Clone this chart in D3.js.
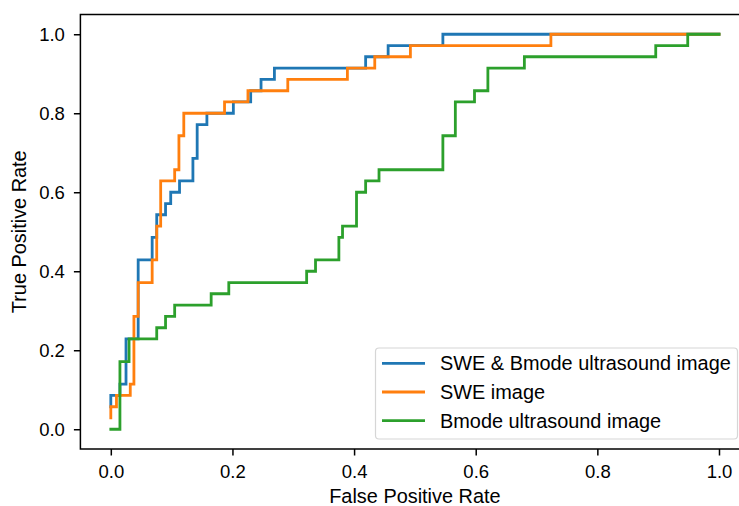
<!DOCTYPE html>
<html>
<head>
<meta charset="utf-8">
<script src="https://d3js.org/d3.v7.min.js"></script>
<style>
  body { margin: 0; background: #fff; }
  svg { display: block; font-family: "Liberation Sans", Arial, sans-serif; }
</style>
</head>
<body>
<svg width="739" height="506" class="roc-chart"></svg>
<script>
  // ROC corner points (fpr / tpr)
  const seriesNames = ["SWE & Bmode ultrasound image", "SWE image", "Bmode ultrasound image"];
  const seriesColors = ["#1f77b4", "#ff7f0e", "#2ca02c"];

  const combinedFpr = [0, 0, 0.015, 0.015, 0.025, 0.025, 0.045, 0.045, 0.068, 0.068, 0.0755, 0.0755,
    0.09, 0.09, 0.0985, 0.0985, 0.113, 0.113, 0.135, 0.135, 0.142, 0.142, 0.158, 0.158,
    0.2015, 0.2015, 0.23, 0.23, 0.247, 0.247, 0.269, 0.269, 0.419, 0.419, 0.456, 0.456,
    0.546, 0.546, 1.0];
  const combinedTpr = [0.057, 0.086, 0.086, 0.114, 0.114, 0.229, 0.229, 0.429, 0.429, 0.486, 0.486, 0.543,
    0.543, 0.571, 0.571, 0.6, 0.6, 0.629, 0.629, 0.686, 0.686, 0.771, 0.771, 0.8,
    0.8, 0.829, 0.829, 0.857, 0.857, 0.886, 0.886, 0.914, 0.914, 0.943, 0.943, 0.971,
    0.971, 1.0, 1.0];

  const sweFpr = [0, 0, 0.0093, 0.0093, 0.032, 0.032, 0.038, 0.038, 0.045, 0.045, 0.068, 0.068,
    0.0755, 0.0755, 0.082, 0.082, 0.105, 0.105, 0.112, 0.112, 0.12, 0.12, 0.187, 0.187,
    0.2255, 0.2255, 0.291, 0.291, 0.389, 0.389, 0.434, 0.434, 0.4926, 0.4926, 0.7236, 0.7236, 1.0];
  const sweTpr = [0.029, 0.057, 0.057, 0.086, 0.086, 0.114, 0.114, 0.286, 0.286, 0.371, 0.371, 0.429,
    0.429, 0.514, 0.514, 0.629, 0.629, 0.657, 0.657, 0.743, 0.743, 0.8, 0.8, 0.829,
    0.829, 0.857, 0.857, 0.886, 0.886, 0.914, 0.914, 0.943, 0.943, 0.971, 0.971, 1.0, 1.0];

  const bmodeFpr = [0, 0.015, 0.015, 0.030, 0.030, 0.0755, 0.0755, 0.09, 0.09, 0.105, 0.105, 0.165,
    0.165, 0.194, 0.194, 0.322, 0.322, 0.3366, 0.3366, 0.375, 0.375, 0.381, 0.381, 0.404,
    0.404, 0.419, 0.419, 0.441, 0.441, 0.546, 0.546, 0.5665, 0.5665, 0.598, 0.598, 0.62,
    0.62, 0.68, 0.68, 0.896, 0.896, 0.9486, 0.9486, 1.0];
  const bmodeTpr = [0, 0, 0.171, 0.171, 0.229, 0.229, 0.257, 0.257, 0.286, 0.286, 0.314, 0.314,
    0.343, 0.343, 0.371, 0.371, 0.4, 0.4, 0.429, 0.429, 0.486, 0.486, 0.514, 0.514,
    0.6, 0.6, 0.629, 0.629, 0.657, 0.657, 0.743, 0.743, 0.829, 0.829, 0.857, 0.857,
    0.914, 0.914, 0.943, 0.943, 0.971, 0.971, 1.0, 1.0];

  const tickValues = [0, 0.2, 0.4, 0.6, 0.8, 1.0];

  const fprs = [combinedFpr, sweFpr, bmodeFpr];
  const tprs = [combinedTpr, sweTpr, bmodeTpr];

  const svg = d3.select(".roc-chart");
  const tickSize = 18.5;   // tick label font
  const labelSize = 19.9;  // axis titles + legend

  // axes box (right edge runs past the picture, like the reference)
  const plotLeft = 80.4, plotRight = 749.4, plotTop = 14.5, plotBottom = 449;

  const x = d3.scaleLinear().domain([-0.05, 1.05]).range([plotLeft, plotRight]);
  const y = d3.scaleLinear().domain([-0.05, 1.05]).range([plotBottom, plotTop]);

  const line = d3.line()
    .x(d => x(d[0]))
    .y(d => y(d[1]));

  // curves
  fprs.forEach((f, i) => {
    const pts = f.map((v, j) => [v, tprs[i][j]]);
    svg.append("path")
      .datum(pts)
      .attr("d", line)
      .attr("fill", "none")
      .attr("stroke", seriesColors[i])
      .attr("stroke-width", 2.8)
      .attr("stroke-linejoin", "miter")
      .attr("stroke-linecap", "square");
  });

  // x axis
  const xAxis = svg.append("g")
    .attr("transform", "translate(0," + plotBottom + ")")
    .call(d3.axisBottom(x).tickValues(tickValues).tickFormat(d3.format(".1f"))
      .tickSize(6.5).tickPadding(9));

  // y axis
  const yAxis = svg.append("g")
    .attr("transform", "translate(" + plotLeft + ",0)")
    .call(d3.axisLeft(y).tickValues(tickValues).tickFormat(d3.format(".1f"))
      .tickSize(6.5).tickPadding(9));

  [xAxis, yAxis].forEach(g => {
    g.select(".domain").remove();
    g.selectAll(".tick line").attr("stroke", "#000").attr("stroke-width", 1.5);
    g.selectAll(".tick text")
      .attr("fill", "#000")
      .style("font-size", tickSize + "px")
      .style("font-family", "'Liberation Sans', Arial, sans-serif");
  });

  // frame
  svg.append("rect")
    .attr("x", plotLeft).attr("y", plotTop)
    .attr("width", plotRight - plotLeft).attr("height", plotBottom - plotTop)
    .attr("fill", "none")
    .attr("stroke", "#000")
    .attr("stroke-width", 1.5);

  // axis labels
  svg.append("text")
    .attr("x", (plotLeft + plotRight) / 2)
    .attr("y", 503)
    .attr("text-anchor", "middle")
    .style("font-size", labelSize + "px")
    .text("False Positive Rate");

  svg.append("text")
    .attr("transform", "translate(26," + (plotTop + plotBottom) / 2 + ") rotate(-90)")
    .attr("text-anchor", "middle")
    .style("font-size", labelSize + "px")
    .text("True Positive Rate");

  // legend
  const legend = svg.append("g");
  legend.append("rect")
    .attr("x", 375.5).attr("y", 348)
    .attr("width", 362).attr("height", 91)
    .attr("rx", 3.5)
    .attr("fill", "#fff").attr("fill-opacity", 0.8)
    .attr("stroke", "#d6d6d6").attr("stroke-width", 1.2);

  seriesNames.forEach((name, i) => {
    const ly = 363.3 + i * 28.7;
    legend.append("line")
      .attr("x1", 382).attr("x2", 425)
      .attr("y1", ly).attr("y2", ly)
      .attr("stroke", seriesColors[i])
      .attr("stroke-width", 2.8);
    legend.append("text")
      .attr("x", 440)
      .attr("y", ly)
      .attr("dy", "0.35em")
      .style("font-size", labelSize + "px")
      .text(name);
  });
</script>
</body>
</html>
